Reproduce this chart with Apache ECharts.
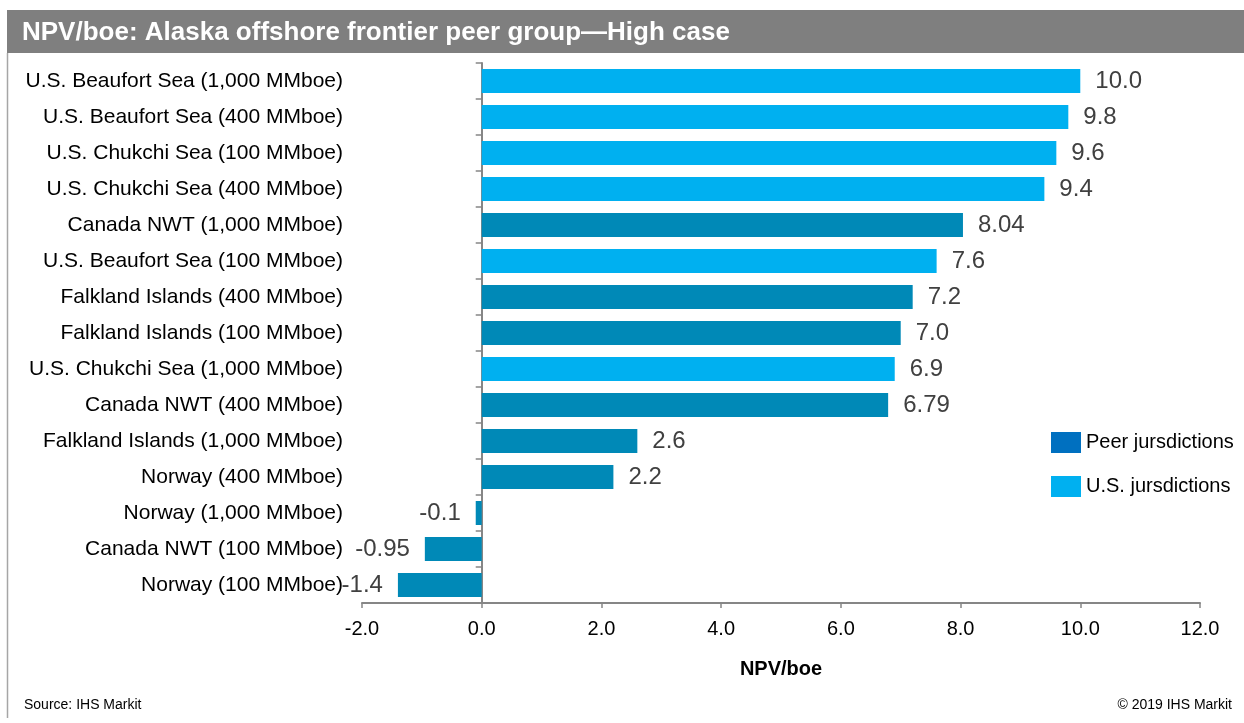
<!DOCTYPE html>
<html>
<head>
<meta charset="utf-8">
<title>NPV/boe: Alaska offshore frontier peer group—High case</title>
<script src="https://cdn.jsdelivr.net/npm/echarts@6/dist/echarts.min.js"></script>
<style>
  html, body { margin: 0; padding: 0; background: #ffffff; }
  #chart { width: 1244px; height: 723px; }
</style>
</head>
<body>
<div id="chart"></div>
<script>
// Prospects, top to bottom
const categories = [
  'U.S. Beaufort Sea (1,000 MMboe)',
  'U.S. Beaufort Sea (400 MMboe)',
  'U.S. Chukchi Sea (100 MMboe)',
  'U.S. Chukchi Sea (400 MMboe)',
  'Canada NWT (1,000 MMboe)',
  'U.S. Beaufort Sea (100 MMboe)',
  'Falkland Islands (400 MMboe)',
  'Falkland Islands (100 MMboe)',
  'U.S. Chukchi Sea (1,000 MMboe)',
  'Canada NWT (400 MMboe)',
  'Falkland Islands (1,000 MMboe)',
  'Norway (400 MMboe)',
  'Norway (1,000 MMboe)',
  'Canada NWT (100 MMboe)',
  'Norway (100 MMboe)'
];

// NPV per boe for each prospect
const npvValues = [10.0, 9.8, 9.6, 9.4, 8.04, 7.6, 7.2, 7.0, 6.9, 6.79, 2.6, 2.2, -0.1, -0.95, -1.4];

// Jurisdiction group of each prospect: 'us' or 'peer'
const groups = ['us', 'us', 'us', 'us', 'peer', 'us', 'peer', 'peer', 'us', 'peer', 'peer', 'peer', 'peer', 'peer', 'peer'];

const seriesNames = { peer: 'Peer jursdictions', us: 'U.S. jursdictions' };

// X axis ticks
const xTicks = [-2, 0, 2, 4, 6, 8, 10, 12];

const FONT = '"Liberation Sans", Arial, Helvetica, sans-serif';
const PEER_BAR = '#0089b7';
const PEER_KEY = '#0070c0';
const US_BAR = '#00b0f0';
const AXIS_GRAY = '#868686';

function formatValue(v) {
  const t = v * 10;
  return Math.abs(t - Math.round(t)) < 1e-9 ? v.toFixed(1) : String(v);
}

function groupData(key) {
  return npvValues.map((v, i) => {
    if (groups[i] !== key) return '-';
    return { value: v, label: { position: v < 0 ? 'left' : 'right' } };
  });
}

const chart = echarts.init(document.getElementById('chart'), null, { renderer: 'canvas' });

chart.setOption({
  animation: false,
  backgroundColor: '#ffffff',
  textStyle: { fontFamily: FONT },
  graphic: [
    { type: 'rect', shape: { x: 7, y: 10, width: 1237, height: 43 }, style: { fill: '#7f7f7f' }, silent: true },
    { type: 'text', left: 22, top: 20, style: { text: 'NPV/boe: Alaska offshore frontier peer group\u2014High case', fill: '#ffffff', font: 'bold 26px ' + FONT } },
    { type: 'line', shape: { x1: 7.5, y1: 53, x2: 7.5, y2: 718 }, style: { stroke: '#a6a6a6', lineWidth: 1.5 }, silent: true },
    { type: 'text', left: 24, top: 698, style: { text: 'Source: IHS Markit', fill: '#000000', font: '14px ' + FONT } },
    { type: 'text', right: 12, top: 698, style: { text: '\u00a9 2019 IHS Markit', fill: '#000000', font: '14px ' + FONT } }
  ],
  legend: {
    orient: 'vertical',
    left: 1046,
    top: 427,
    itemWidth: 30,
    itemHeight: 21,
    itemGap: 23,
    icon: 'rect',
    textStyle: { fontSize: 20, color: '#000000', fontFamily: FONT },
    data: [
      { name: seriesNames.peer, itemStyle: { color: PEER_KEY } },
      { name: seriesNames.us, itemStyle: { color: US_BAR } }
    ]
  },
  grid: { left: 362, top: 63, width: 838, height: 540, containLabel: false, outerBoundsMode: 'none' },
  xAxis: {
    type: 'value',
    min: xTicks[0],
    max: xTicks[xTicks.length - 1],
    interval: 2,
    name: 'NPV/boe',
    nameLocation: 'middle',
    nameGap: 56,
    nameTextStyle: { fontSize: 20, fontWeight: 'bold', color: '#000000', fontFamily: FONT },
    axisLine: { show: true, lineStyle: { color: AXIS_GRAY, width: 2 } },
    axisTick: { show: true, length: 5, lineStyle: { color: AXIS_GRAY, width: 1.5 } },
    axisLabel: { fontSize: 20, color: '#000000', margin: 16, formatter: v => v.toFixed(1), fontFamily: FONT },
    splitLine: { show: false }
  },
  yAxis: {
    type: 'category',
    inverse: true,
    data: categories,
    axisLine: { show: true, onZero: true, lineStyle: { color: AXIS_GRAY, width: 2 } },
    axisTick: { show: true, length: 6, lineStyle: { color: AXIS_GRAY, width: 1.5 } },
    axisLabel: { fontSize: 21, color: '#000000', margin: 19, fontFamily: FONT }
  },
  series: [
    {
      name: seriesNames.peer,
      type: 'bar',
      barWidth: 24,
      barGap: '-100%',
      itemStyle: { color: PEER_BAR },
      label: { show: true, distance: 15, fontSize: 24, color: '#404040', fontFamily: FONT, formatter: p => formatValue(p.value) },
      data: groupData('peer')
    },
    {
      name: seriesNames.us,
      type: 'bar',
      barWidth: 24,
      barGap: '-100%',
      itemStyle: { color: US_BAR },
      label: { show: true, distance: 15, fontSize: 24, color: '#404040', fontFamily: FONT, formatter: p => formatValue(p.value) },
      data: groupData('us')
    }
  ]
});
</script>
</body>
</html>
